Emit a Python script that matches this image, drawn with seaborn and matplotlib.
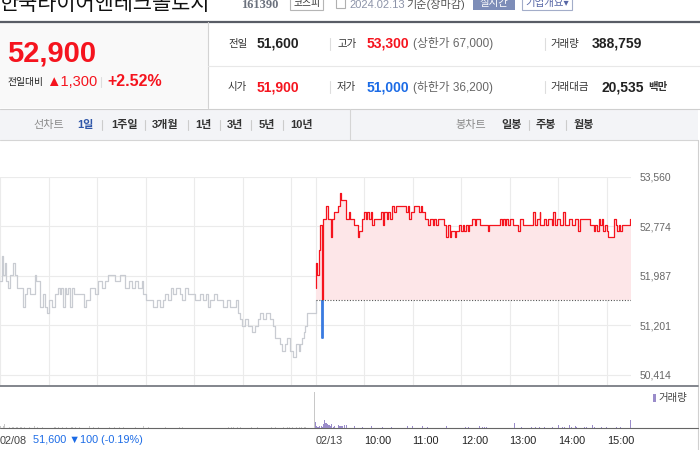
import matplotlib
matplotlib.use('Agg')
import matplotlib.pyplot as plt
from matplotlib.patches import Rectangle
import seaborn as sns
import numpy as np
import pandas as pd

# 02/08 (전일) 가격: 장 시작 후 분, 가격
prev_minutes = [0, 2, 4, 6, 8, 10, 12, 16, 19, 21,
                25, 28, 31, 33, 37, 41, 43, 45, 49, 50,
                53, 56, 58, 61, 64, 68, 72, 74, 76, 78,
                80, 82, 84, 86, 89, 91, 97, 102, 104, 106,
                109, 111, 117, 121, 126, 130, 134, 138, 142, 148,
                153, 154, 159, 163, 167, 171, 175, 177, 181, 185,
                189, 194, 198, 202, 204, 208, 211, 214, 218, 222,
                225, 229, 233, 237, 241, 247, 251, 255, 257, 259,
                264, 268, 272, 276, 280, 284, 290, 292, 294, 297,
                299, 303, 307, 311, 315, 319, 321, 325, 329, 334,
                338, 340, 344, 346, 349, 352, 355, 358, 362, 366,
                369, 371, 373, 376, 377, 379, 389, 390]
prev_prices = [51900, 52300, 52000, 52200, 51900, 51800, 52000, 52200, 52000, 51800,
               51800, 51500, 51700, 51800, 51700, 51700, 52000, 51900, 51700, 51500,
               51700, 51500, 51400, 51600, 51500, 51700, 51800, 51700, 51800, 51500,
               51800, 51700, 51800, 51500, 51800, 51700, 51700, 51700, 51500, 51600,
               51600, 51800, 51700, 51900, 51800, 51900, 52000, 52000, 51900, 52000,
               52000, 51800, 51900, 51800, 51900, 51800, 51900, 51700, 51600, 51600,
               51500, 51600, 51500, 51600, 51700, 51600, 51800, 51700, 51800, 51700,
               51600, 51800, 51700, 51700, 51600, 51700, 51600, 51700, 51500, 51600,
               51700, 51600, 51600, 51500, 51600, 51500, 51500, 51600, 51400, 51300,
               51200, 51300, 51200, 51100, 51200, 51300, 51400, 51300, 51400, 51300,
               51200, 51000, 51000, 50900, 50800, 50900, 51000, 50800, 50700, 50900,
               50800, 50900, 51000, 51100, 51200, 51400, 51400, 51600]

# 02/13 가격
today_minutes = [0, 1, 2, 4, 6, 8, 9, 13, 16, 19,
                 21, 23, 28, 30, 32, 38, 41, 43, 48, 52,
                 54, 58, 60, 62, 64, 66, 68, 70, 72, 81,
                 83, 85, 88, 90, 92, 94, 97, 99, 112, 114,
                 116, 118, 122, 128, 130, 132, 135, 139, 141, 145,
                 147, 149, 151, 159, 161, 164, 166, 168, 172, 174,
                 177, 180, 182, 184, 186, 188, 190, 194, 197, 199,
                 203, 213, 215, 228, 230, 232, 234, 236, 238, 240,
                 244, 250, 253, 257, 269, 271, 274, 277, 278, 282,
                 285, 288, 292, 294, 296, 299, 302, 306, 308, 313,
                 317, 321, 325, 327, 339, 344, 346, 348, 350, 352,
                 354, 356, 358, 360, 362, 369, 371, 373, 375, 377,
                 379, 389, 390]
today_prices = [51800, 52200, 52000, 52400, 52800, 51000, 52900, 53100, 52900, 52600,
                52900, 53000, 53100, 53300, 53200, 52900, 53000, 52900, 52800, 52600,
                52700, 52900, 53000, 52900, 53000, 52900, 53000, 52800, 52900, 53000,
                52800, 53000, 52900, 53000, 52900, 53100, 53000, 53100, 53000, 53100,
                52900, 53000, 53100, 53000, 53100, 53000, 52900, 52800, 52900, 52800,
                52900, 52800, 52900, 52800, 52600, 52800, 52600, 52700, 52600, 52700,
                52800, 52700, 52800, 52700, 52800, 52700, 52800, 52900, 52800, 52900,
                52800, 52700, 52800, 52900, 52800, 52900, 52800, 52900, 52800, 52900,
                52800, 52700, 52900, 52800, 53000, 52800, 52900, 53000, 52800, 52900,
                52800, 52900, 52800, 53000, 52800, 52900, 52800, 53000, 52800, 52900,
                52800, 52900, 52700, 52900, 52800, 52700, 52800, 52700, 52900, 52800,
                52900, 52700, 52800, 52700, 52600, 52900, 52800, 52700, 52800, 52700,
                52800, 52900, 52900]

# 거래량
prev_vol_minutes = [1, 4, 6, 12, 15, 17, 20, 22, 25, 27, 30, 36, 43, 46, 52, 68, 72, 77,
                    82, 89, 93, 98, 111, 115, 122, 135, 142, 148, 153, 167, 177, 183,
                    204, 222, 226, 282, 286, 289, 293, 297, 311, 318, 336, 340, 350,
                    355, 358, 362, 366, 370, 373, 377, 389]
prev_vol = [3000, 3000, 6000, 1500, 1500, 1500, 1500, 1500, 1500, 1500, 1500, 1500,
            3000, 1500, 1500, 1500, 1500, 1500, 1500, 1500, 1500, 1500, 3000, 1500,
            1500, 1500, 1500, 1500, 1500, 1500, 3000, 1500, 1500, 1500, 1500, 1500,
            1500, 1500, 1500, 1500, 1500, 1500, 1500, 1500, 1500, 1500, 1500, 1500,
            1500, 1500, 1500, 1500, 54000]
today_vol_minutes = [0, 1, 2, 4, 5, 7, 9, 10, 11, 12, 14, 15, 16, 17, 19, 20, 22, 23,
                     28, 30, 31, 32, 33, 36, 38, 48, 58, 69, 83, 94, 114, 120, 132,
                     138, 162, 185, 189, 203, 206, 209, 211, 246, 255, 267, 272, 277,
                     283, 293, 300, 305, 308, 314, 316, 321, 323, 333, 335, 342, 345,
                     354, 360, 372, 377, 389]
today_vol = [9000, 3000, 1500, 1500, 3000, 3000, 1500, 6000, 12000, 7500, 7500, 6000,
             4500, 4500, 3000, 6000, 1500, 3000, 4500, 3000, 3000, 3000, 3000, 4500,
             4500, 3000, 1500, 3000, 1500, 1500, 3000, 3000, 3000, 1500, 3000, 1500,
             1500, 3000, 1500, 1500, 1500, 7500, 1500, 1500, 1500, 1500, 1500, 1500,
             4500, 1500, 1500, 4500, 1500, 3000, 1500, 1500, 1500, 4500, 1500, 1500,
             1500, 1500, 1500, 12000]

prev_close = 51600
price_ticks = [50414, 51201, 51987, 52774, 53560]
grid_minutes = [0, 60, 120, 180, 240, 300, 360, 390, 450, 510, 570, 630, 690, 750]
time_ticks = [0, 390, 450, 510, 570, 630, 690, 750]
time_labels = ['02/08', '02/13', '10:00', '11:00', '12:00', '13:00', '14:00', '15:00']

RED = '#f5141e'
BLUE = '#1b6be6'
PURPLE = '#9a8cca'

sns.set_style('white')
plt.rcParams['font.family'] = ['Liberation Sans', 'Noto Sans CJK KR', 'DejaVu Sans']

fig = plt.figure(figsize=(7, 4.5), dpi=100)

# 배경 (픽셀 좌표)
bg = fig.add_axes([0, 0, 1, 1])
bg.set_xlim(0, 700)
bg.set_ylim(450, 0)
bg.axis('off')

# 상단 종목명 줄
bg.text(0, 10, '한국타이어앤테크놀로지', fontsize=15, color='#111111', va='baseline')
bg.text(241, 8.5, '161390', fontsize=9, fontweight='bold', color='#6b717d',
        family=['Liberation Serif'], va='baseline')
bg.add_patch(Rectangle((290, -6), 33, 16, fc='white', ec='#b5b5b5', lw=0.8))
bg.text(306.5, 3, '코스피', fontsize=7, color='#333333', ha='center', va='center')
bg.add_patch(Rectangle((336, -3), 9, 11, fc='none', ec='#b0b0b0', lw=0.8))
bg.text(349, 8, '2024.02.13', fontsize=8, color='#8c93a8', va='baseline')
bg.text(406, 8, '기준(장마감)', fontsize=8, color='#555555', va='baseline')
bg.add_patch(Rectangle((473, -6), 42, 16, fc='#7d8db8', lw=0))
bg.text(494, 3, '실시간', fontsize=7.5, color='white', ha='center', va='center')
bg.add_patch(Rectangle((522, -6), 50, 16, fc='white', ec='#a3adc9', lw=0.8))
bg.text(547, 3, '기업개요▾', fontsize=7.5, color='#5767a6', ha='center', va='center')

# 시세 박스
bg.add_patch(Rectangle((0, 22), 208, 86, fc='#f9f9f9', lw=0))
bg.plot([0, 700], [21.5, 21.5], color='#595d66', lw=1.6)
bg.plot([208, 208], [22, 108], color='#d3d3d3', lw=0.8)
bg.plot([208, 700], [65.5, 65.5], color='#e8e8e8', lw=0.8)
bg.plot([0, 700], [108.5, 108.5], color='#cfcfcf', lw=0.8)

bg.text(7, 54, '52,900', fontsize=21, fontweight='bold', color=RED, va='center')
bg.text(8, 82, '전일대비', fontsize=7, color='#222222', va='center')
bg.text(46, 82, '▲1,300', fontsize=10.5, color=RED, va='center')
bg.plot([101, 101], [77, 87], color='#dddddd', lw=0.8)
bg.text(107, 82, '+2.52%', fontsize=11.5, fontweight='bold', color=RED, va='center')

rows = [
    (44, [('전일', 228, '#333333', 7.5, 'normal'), ('51,600', 257, '#222222', 10, 'bold'),
          ('고가', 337, '#333333', 7.5, 'normal'), ('53,300', 367, RED, 10, 'bold'),
          ('(상한가 67,000)', 413, '#666666', 8.5, 'normal'),
          ('거래량', 550, '#333333', 7.5, 'normal'), ('388,759', 592, '#222222', 10, 'bold')]),
    (87, [('시가', 228, '#333333', 7.5, 'normal'), ('51,900', 257, RED, 10, 'bold'),
          ('저가', 337, '#333333', 7.5, 'normal'), ('51,000', 367, BLUE, 10, 'bold'),
          ('(하한가 36,200)', 413, '#666666', 8.5, 'normal'),
          ('거래대금', 550, '#333333', 7.5, 'normal'), ('20,535', 602, '#222222', 10, 'bold'),
          ('백만', 648, '#333333', 7.5, 'bold')]),
]
for y, items in rows:
    for s, x, c, fs, fw in items:
        bg.text(x, y, s, fontsize=fs, color=c, fontweight=fw, va='center')
    for sx in (330, 545):
        bg.plot([sx, sx], [y - 6, y + 6], color='#dddddd', lw=0.8)

# 탭 바
bg.add_patch(Rectangle((0, 109), 698, 31, fc='#f3f4f7', lw=0))
bg.plot([0, 698], [140, 140], color='#d5d5d5', lw=0.8)
bg.plot([350, 350], [109, 140], color='#d5d5d5', lw=0.8)
bg.plot([698, 698], [140, 450], color='#d0d0d0', lw=0.8)
tabs = [('선차트', 33, '#8a8a8a', 'normal'), ('1일', 77, '#2f56a8', 'bold'),
        ('1주일', 111, '#333333', 'bold'), ('3개월', 152, '#333333', 'bold'),
        ('1년', 195, '#333333', 'bold'), ('3년', 227, '#333333', 'bold'),
        ('5년', 259, '#333333', 'bold'), ('10년', 290, '#333333', 'bold'),
        ('봉차트', 455, '#8a8a8a', 'normal'), ('일봉', 501, '#333333', 'bold'),
        ('주봉', 536, '#333333', 'bold'), ('월봉', 574, '#333333', 'bold')]
for s, x, c, fw in tabs:
    bg.text(x, 125, s, fontsize=8, color=c, fontweight=fw, va='center')
for sx in (102, 145, 188, 220, 251, 283, 529, 566):
    bg.plot([sx, sx], [120, 130], color='#cccccc', lw=0.8)

# 차트 구분선
bg.plot([0, 698], [385.5, 385.5], color='#6d7179', lw=1.2)
bg.plot([0, 698], [428, 428], color='#666666', lw=0.8)

# 가격 차트
ax = fig.add_axes([0, 65 / 450, 631 / 700, 208 / 450])
ax.set_facecolor('none')
prev_df = pd.DataFrame({'t': prev_minutes, 'price': prev_prices})
today_df = pd.DataFrame({'t': 390 + np.array(today_minutes), 'price': today_prices})

ax.fill_between(today_df['t'], np.maximum(today_df['price'], prev_close), prev_close,
                step='post', color='#fde6e8', lw=0, zorder=1)
sns.lineplot(data=prev_df, x='t', y='price', ax=ax, color='#c9ccd2', linewidth=0.9,
             estimator=None, sort=False, drawstyle='steps-post', zorder=2)
sns.lineplot(data=today_df, x='t', y='price', ax=ax, color=RED, linewidth=0.9,
             estimator=None, sort=False, drawstyle='steps-post', zorder=3)
ax.lines[-1].set_clip_path(Rectangle((0, prev_close), 780, 5000, transform=ax.transData))
sns.lineplot(data=today_df, x='t', y='price', ax=ax, color='#3a7be0', linewidth=1.3,
             estimator=None, sort=False, drawstyle='steps-post', zorder=3)
ax.lines[-1].set_clip_path(Rectangle((0, 40000), 780, prev_close - 40000,
                                     transform=ax.transData))
ax.hlines(prev_close, 390, 780, colors='#555555', linestyles=(0, (1, 1.5)), lw=0.8, zorder=4)

ax.set_xlim(0, 780)
ax.set_ylim(50255, 53560)
ax.set_xticks(grid_minutes)
ax.set_yticks(price_ticks)
ax.set_yticklabels([f'{v:,}' for v in price_ticks])
ax.yaxis.tick_right()
ax.tick_params(axis='x', length=0, labelbottom=False)
ax.tick_params(axis='y', length=0, pad=6.5, labelsize=7.5, labelcolor='#666666')
ax.grid(True, color='#ebebeb', lw=0.8)
ax.set_axisbelow(True)
ax.set_xlabel('')
ax.set_ylabel('')
for sp in ax.spines.values():
    sp.set_visible(False)

# 거래량 차트
axv = fig.add_axes([0, 22 / 450, 631 / 700, 43 / 450])
axv.set_facecolor('none')
axv.bar(prev_vol_minutes, prev_vol, width=1.3, color='#c8c8c8', lw=0)
axv.bar(390 + np.array(today_vol_minutes), today_vol, width=1.3, color=PURPLE, lw=0)
axv.set_xlim(0, 780)
axv.set_ylim(0, 65000)
axv.set_yticks([])
axv.set_xticks(time_ticks)
axv.set_xticklabels(time_labels)
axv.tick_params(axis='x', length=3, width=0.8, color='#333333', pad=3,
                labelsize=7.8, labelcolor='#222222')
for lab in axv.get_xticklabels():
    lab.set_ha('left')
axv.get_xticklabels()[0].set_color('#444444')
axv.get_xticklabels()[1].set_color('#444444')
for sp in axv.spines.values():
    sp.set_visible(False)

bg.text(33, 440, '51,600 ▼100 (-0.19%)', fontsize=7.8, color=BLUE, va='center')
bg.add_patch(Rectangle((653, 394), 2.5, 8, fc=PURPLE, lw=0))
bg.text(658, 398, '거래량', fontsize=7.5, color='#444444', va='center')

fig.savefig('out.png', dpi=100)
